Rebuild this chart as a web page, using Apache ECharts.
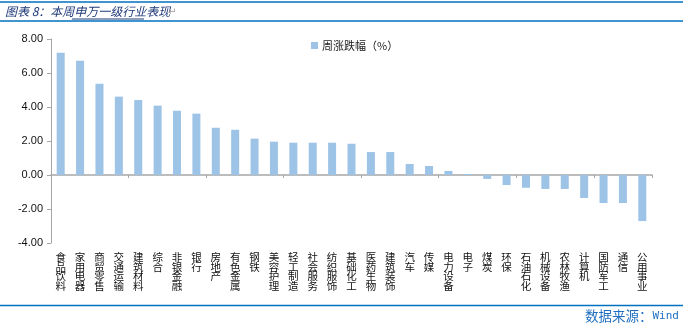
<!DOCTYPE html>
<html>
<head>
<meta charset="utf-8">
<script src="https://cdn.jsdelivr.net/npm/echarts@6/dist/echarts.min.js"></script>
<style>
  html, body { margin: 0; padding: 0; background: #fff; }
  #chart { width: 683px; height: 325px; }
</style>
</head>
<body>
<div id="chart"></div>
<script>
// 申万一级行业周涨跌幅（%）
var industries = [
  '食品饮料', '家用电器', '商贸零售', '交通运输', '建筑材料', '综合', '非银金融', '银行',
  '房地产', '有色金属', '钢铁', '美容护理', '轻工制造', '社会服务', '纺织服饰', '基础化工',
  '医药生物', '建筑装饰', '汽车', '传媒', '电力设备', '电子', '煤炭', '环保',
  '石油石化', '机械设备', '农林牧渔', '计算机', '国防军工', '通信', '公用事业'
];
var weeklyChange = [
  7.19, 6.72, 5.37, 4.61, 4.41, 4.08, 3.78, 3.61,
  2.78, 2.66, 2.14, 1.96, 1.90, 1.90, 1.90, 1.84,
  1.35, 1.35, 0.65, 0.53, 0.24, 0.06, -0.23, -0.59,
  -0.75, -0.82, -0.82, -1.35, -1.65, -1.65, -2.71
];
var yTicks = { min: -4, max: 8, step: 2 };
var seriesName = '周涨跌幅（%）';
var titleText = '图表 8：本周申万一级行业表现';
var sourceLabel = '数据来源：';
var sourceName = 'Wind';

var chart = echarts.init(document.getElementById('chart'));
var axisGrey = '#a6a6a6';
var rule = '#0070c0';
var cjk = '"Noto Sans CJK SC", sans-serif';

chart.setOption({
  animation: false,
  textStyle: { fontFamily: '"Liberation Sans", Arial, sans-serif' },
  grid: { left: 51, right: 31, top: 39, bottom: 82 },
  legend: {
    data: [seriesName],
    top: 35,
    left: 306,
    itemWidth: 7,
    itemHeight: 7,
    itemGap: 4,
    icon: 'rect',
    textStyle: { fontSize: 11, color: '#222', fontFamily: cjk, padding: [0, 0, 0, -1] }
  },
  xAxis: [
    {
      type: 'category',
      data: industries,
      axisLine: { onZero: true, lineStyle: { color: axisGrey, width: 1.5 } },
      axisTick: { show: true, length: 3, lineStyle: { color: axisGrey } },
      axisLabel: { show: false }
    },
    {
      type: 'category',
      data: industries,
      position: 'bottom',
      axisLine: { show: false, onZero: false },
      axisTick: { show: false },
      axisLabel: {
        interval: 0,
        margin: 9,
        fontSize: 10.5,
        lineHeight: 9.8,
        color: '#111',
        fontFamily: cjk,
        verticalAlign: 'top',
        formatter: function (v) { return v.split('').join('\n'); }
      }
    }
  ],
  yAxis: {
    type: 'value',
    min: yTicks.min,
    max: yTicks.max,
    interval: yTicks.step,
    splitLine: { show: false },
    axisLine: { show: true, lineStyle: { color: axisGrey } },
    axisTick: { show: true, length: 4, lineStyle: { color: axisGrey } },
    axisLabel: {
      fontSize: 11,
      color: '#111',
      margin: 8,
      formatter: function (v) { return v.toFixed(2); }
    }
  },
  series: [{
    name: seriesName,
    type: 'bar',
    xAxisIndex: 0,
    data: weeklyChange,
    barWidth: 8,
    itemStyle: { color: '#9dc3e6' }
  }],
  graphic: [
    { type: 'line', shape: { x1: 0, y1: 2, x2: 683, y2: 2 }, style: { stroke: rule, lineWidth: 1.5 } },
    { type: 'line', shape: { x1: 0, y1: 21, x2: 683, y2: 21 }, style: { stroke: rule, lineWidth: 1.5 } },
    {
      type: 'text', x: 5, y: 5,
      style: {
        text: titleText,
        fill: '#1f3a7a',
        fontSize: 12,
        fontStyle: 'italic',
        fontFamily: cjk
      }
    },
    { type: 'line', shape: { x1: 72, y1: 19, x2: 144, y2: 19 }, style: { stroke: '#1f3a7a', lineWidth: 1 } },
    {
      type: 'text', x: 168, y: 7,
      style: { text: '↵', fill: '#999', fontSize: 10, fontFamily: '"DejaVu Sans", sans-serif' }
    },
    { type: 'line', shape: { x1: 0, y1: 305.5, x2: 683, y2: 305.5 }, style: { stroke: rule, lineWidth: 1.5 } },
    {
      type: 'text', x: 585, y: 309,
      style: {
        text: '{c|' + sourceLabel + '}{m|' + sourceName + '}',
        rich: {
          c: { fill: '#1f6fc0', fontSize: 13.5, fontFamily: cjk },
          m: { fill: '#1f6fc0', fontSize: 11, fontFamily: '"DejaVu Sans Mono", monospace' }
        }
      }
    }
  ]
});
</script>
</body>
</html>
